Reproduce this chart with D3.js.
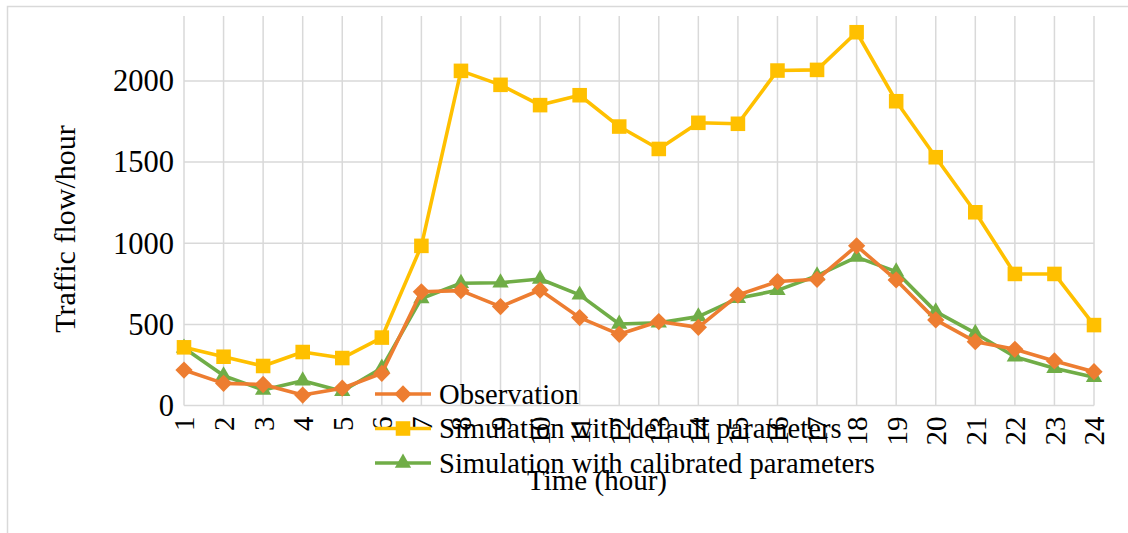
<!DOCTYPE html>
<html>
<head>
<meta charset="utf-8">
<script src="https://cdn.jsdelivr.net/npm/d3@7/dist/d3.min.js"></script>
<style>
  html, body { margin: 0; padding: 0; background: #fff; }
  svg { display: block; }
</style>
</head>
<body>
<svg id="chart" width="1128" height="533"></svg>
<script>
// Hourly traffic flow: observed counts vs. two simulation runs
const hours = d3.range(1, 25);
const observation = [219, 137, 130, 65, 107, 199, 701, 708, 610, 712, 542, 439, 518, 482, 681, 764, 778, 984, 774, 528, 394, 347, 275, 209];
const simDefault  = [359, 301, 244, 330, 293, 419, 984, 2062, 1976, 1851, 1912, 1719, 1581, 1742, 1736, 2064, 2068, 2300, 1875, 1530, 1191, 811, 811, 496];
const simCalib    = [355, 185, 96, 153, 88, 232, 660, 754, 757, 780, 682, 503, 510, 548, 661, 710, 800, 915, 825, 579, 446, 301, 230, 174];
const yTicks = [0, 500, 1000, 1500, 2000];
const seriesNames = ["Observation", "Simulation with default parameters", "Simulation with calibrated parameters"];

const FONT = "Liberation Serif, DejaVu Serif, serif";
const fontSize = 29;

const svg = d3.select("#chart");

// outer chart frame
svg.append("rect")
  .attr("x", 7.5).attr("y", 6.5)
  .attr("width", 1140).attr("height", 560)
  .attr("fill", "#fff")
  .attr("stroke", "#D9D9D9").attr("stroke-width", 1.5);

const x = d3.scalePoint().domain(hours).range([184, 1094]);
const y = d3.scaleLinear().domain([0, 2400]).range([405.6, 16]);

// gridlines
const grid = svg.append("g").attr("stroke", "#D9D9D9").attr("stroke-width", 1.5);
grid.selectAll("line.v").data(hours).join("line")
  .attr("x1", d => x(d)).attr("x2", d => x(d))
  .attr("y1", y(2400)).attr("y2", y(0));
grid.selectAll("line.h").data(yTicks).join("line")
  .attr("x1", x(1)).attr("x2", x(24))
  .attr("y1", d => y(d)).attr("y2", d => y(d));

// y axis labels
const yAxis = svg.append("g")
  .attr("transform", `translate(${x(1)},0)`)
  .call(d3.axisLeft(y).tickValues(yTicks).tickSize(0).tickPadding(10).tickFormat(d3.format("d")))
  .attr("font-family", FONT).attr("font-size", 30.5);
yAxis.select(".domain").remove();
yAxis.selectAll("text").attr("fill", "#000");

// x axis labels (rotated)
const xAxis = svg.append("g")
  .attr("transform", `translate(0,${y(0)})`)
  .call(d3.axisBottom(x).tickSize(0).tickPadding(0))
  .attr("font-family", FONT).attr("font-size", fontSize);
xAxis.select(".domain").remove();
xAxis.selectAll("text")
  .attr("fill", "#000")
  .attr("text-anchor", "end")
  .attr("transform", "rotate(-90)")
  .attr("x", -11).attr("y", 0).attr("dy", "0.34em");

// axis titles
svg.append("text")
  .attr("transform", "translate(75,229) rotate(-90)")
  .attr("text-anchor", "middle")
  .attr("font-family", FONT).attr("font-size", 30)
  .text("Traffic flow/hour");
svg.append("text")
  .attr("x", 597).attr("y", 490)
  .attr("text-anchor", "middle")
  .attr("font-family", FONT).attr("font-size", fontSize)
  .text("Time (hour)");

// markers
const diamond = d3.symbol().type(d3.symbolDiamond2).size(190)();
const square = d3.symbol().type(d3.symbolSquare2).size(270)();
const triangle = d3.symbol().type(d3.symbolTriangle2).size(190)();

// drawing order: calibrated, default, observation on top
const series = [
  { name: seriesNames[2], values: simCalib, color: "#70AD47", shape: triangle },
  { name: seriesNames[1], values: simDefault, color: "#FFC000", shape: square },
  { name: seriesNames[0], values: observation, color: "#ED7D31", shape: diamond }
];

const line = d3.line().x((d, i) => x(hours[i])).y(d => y(d));

series.forEach(s => {
  const g = svg.append("g");
  g.append("path").datum(s.values)
    .attr("d", line)
    .attr("fill", "none")
    .attr("stroke", s.color).attr("stroke-width", 3.6)
    .attr("stroke-linejoin", "round");
  g.selectAll("path.m").data(s.values).join("path")
    .attr("class", "m")
    .attr("d", s.shape)
    .attr("transform", (d, i) => `translate(${x(hours[i])},${y(d)})`)
    .attr("fill", s.color);
});

// legend
const legendItems = [
  { name: seriesNames[0], color: "#ED7D31", shape: diamond },
  { name: seriesNames[1], color: "#FFC000", shape: square },
  { name: seriesNames[2], color: "#70AD47", shape: triangle }
];
const legend = svg.append("g").attr("transform", "translate(375,394)")
  .attr("font-family", FONT).attr("font-size", 28.6);
const li = legend.selectAll("g").data(legendItems).join("g")
  .attr("transform", (d, i) => `translate(0,${i * 34.5})`);
li.append("line").attr("x1", 0).attr("x2", 56).attr("y1", 0).attr("y2", 0)
  .attr("stroke", d => d.color).attr("stroke-width", 3.6);
li.append("path").attr("d", d => d.shape).attr("transform", "translate(28,0)")
  .attr("fill", d => d.color);
li.append("text").attr("x", 64).attr("y", 0).attr("dy", "0.34em")
  .attr("fill", "#000")
  .text(d => d.name);
</script>
</body>
</html>
